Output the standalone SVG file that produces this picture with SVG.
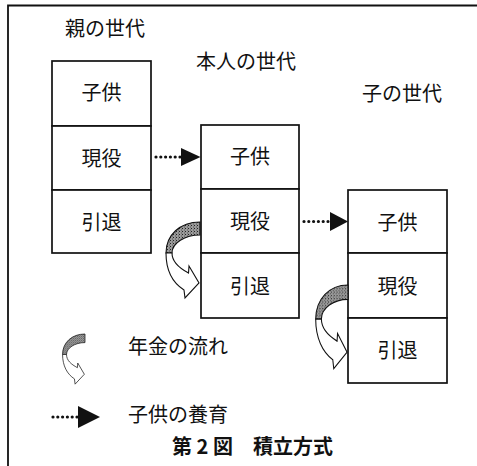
<svg xmlns="http://www.w3.org/2000/svg" width="477" height="466" viewBox="0 0 477 466">
<style>
text{font-family:"Noto Sans CJK JP","Noto Sans",sans-serif;font-size:20px;fill:#111;}
.c{text-anchor:middle;dominant-baseline:central;}
.l{dominant-baseline:central;}
.box{fill:#fff;stroke:#111;stroke-width:1.7;}
.dots{stroke:#111;stroke-width:3.2;stroke-linecap:round;stroke-dasharray:0 4.8;fill:none;}
.tri{fill:#111;}
.band{fill:url(#stip);stroke:#111;stroke-width:1.1;}
.shaft{fill:#fff;stroke:#111;stroke-width:1.1;stroke-linejoin:miter;}
</style>
<defs>
<pattern id="stip" width="3" height="3" patternUnits="userSpaceOnUse">
<rect width="3" height="3" fill="#9a9a9a"/>
<rect width="1" height="1" fill="#222"/>
<rect x="2" y="1.5" width="1" height="1" fill="#555"/>
</pattern>
<g id="curve">
<path class="band" d="M0,0 C-20,0 -34,13 -34,31 L-28,31 C-28,21 -15,13 0,13 Z"/>
<path class="shaft" d="M-34,31 C-34,48 -27,61 -16,68 L-15,76 L-1,61 L-11,44 L-11.5,51 C-21,46 -28,40 -28,31 Z"/>
</g>
</defs>
<rect width="477" height="466" fill="#fff"/>
<path d="M8,466 V5.5 H477" fill="none" stroke="#111" stroke-width="1.8"/>

<g id="labels">
<text x="65" y="27" class="l">親の世代</text>
<text x="196" y="60" class="l">本人の世代</text>
<text x="362" y="92" class="l">子の世代</text>
</g>

<g id="gen-parent">
<rect class="box" x="52" y="61" width="99" height="65"/>
<rect class="box" x="52" y="126" width="99" height="64"/>
<rect class="box" x="52" y="190" width="99" height="63"/>
<text class="c" x="101.5" y="91">子供</text>
<text class="c" x="101.5" y="157">現役</text>
<text class="c" x="101.5" y="221">引退</text>
</g>

<g id="gen-self">
<rect class="box" x="201" y="125" width="98" height="64"/>
<rect class="box" x="201" y="189" width="98" height="64"/>
<rect class="box" x="201" y="253" width="98" height="65"/>
<text class="c" x="250" y="155">子供</text>
<text class="c" x="250" y="220">現役</text>
<text class="c" x="250" y="285">引退</text>
</g>

<g id="gen-child">
<rect class="box" x="348" y="190" width="99" height="63"/>
<rect class="box" x="348" y="253" width="99" height="65"/>
<rect class="box" x="348" y="318" width="99" height="65"/>
<text class="c" x="397.5" y="221">子供</text>
<text class="c" x="397.5" y="285">現役</text>
<text class="c" x="397.5" y="349">引退</text>
</g>

<g id="connectors">
<line class="dots" x1="156" y1="157" x2="181" y2="157"/>
<polygon class="tri" points="181,148 200.5,157 181,166"/>
<line class="dots" x1="304" y1="221.5" x2="330" y2="221.5"/>
<polygon class="tri" points="330,212 348,221.5 330,231"/>
<use href="#curve" transform="translate(200,222)"/>
<use href="#curve" transform="translate(348,285) scale(0.95,1.1)"/>
</g>

<g id="legend">
<use href="#curve" transform="translate(85,334) scale(0.66,0.66)"/>
<text x="128" y="345" class="l">年金の流れ</text>
<line class="dots" x1="53" y1="417" x2="78" y2="417"/>
<polygon class="tri" points="78,406 100,417 78,428"/>
<text x="128" y="413" class="l">子供の養育</text>
</g>

<g id="title">
<text x="172" y="445" class="l" style="font-weight:bold">第 2 図　積立方式</text>
</g>
</svg>
